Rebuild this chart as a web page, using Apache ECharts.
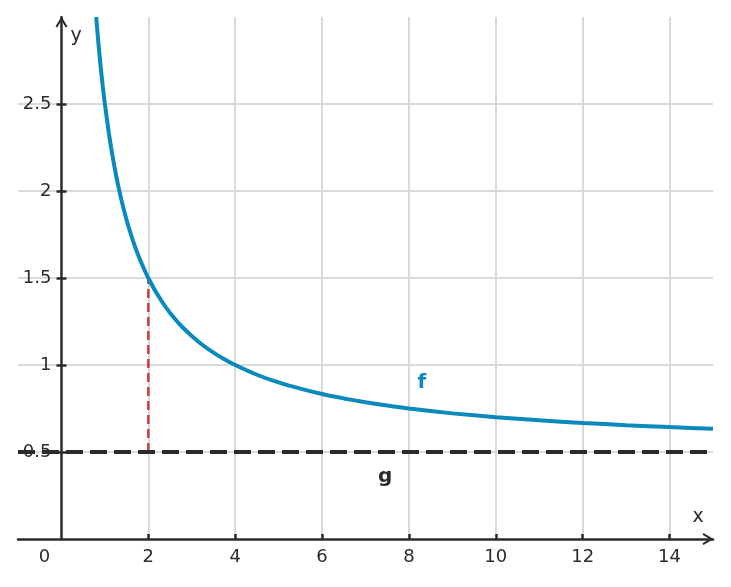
<!DOCTYPE html>
<html>
<head>
<meta charset="utf-8">
<script src="https://cdn.jsdelivr.net/npm/echarts@6/dist/echarts.min.js"></script>
<style>
html, body { margin: 0; padding: 0; background: #fff; }
#main { width: 731px; height: 587px; }
</style>
</head>
<body>
<div id="main"></div>
<script>
// values
var xTicks = [0, 2, 4, 6, 8, 10, 12, 14];
var yTicks = [0.5, 1, 1.5, 2, 2.5];
var fX = [0.8, 0.85, 0.9, 0.95, 1, 1.1, 1.2, 1.3, 1.4, 1.5, 1.6, 1.7, 1.8, 1.9, 2, 2.2, 2.4, 2.6, 2.8, 3, 3.25, 3.5, 3.75, 4, 4.5, 5, 5.5, 6, 6.5, 7, 7.5, 8, 9, 10, 11, 12, 13, 14, 15];
var fY = [3.0, 2.853, 2.722, 2.605, 2.5, 2.318, 2.167, 2.038, 1.929, 1.833, 1.75, 1.676, 1.611, 1.553, 1.5, 1.409, 1.333, 1.269, 1.214, 1.167, 1.115, 1.071, 1.033, 1.0, 0.944, 0.9, 0.864, 0.833, 0.808, 0.786, 0.767, 0.75, 0.722, 0.7, 0.682, 0.667, 0.654, 0.643, 0.633];
var gX = [-1, 15];
var gY = [0.5, 0.5];
var dropX = [2, 2];
var dropY = [0.5, 1.5];
var labelNames = ['f', 'g'];
var labelX = [8.3, 7.45];
var labelY = [0.9, 0.36];

var blue = '#0a89bc';
var dark = '#2b2b2b';
var red = '#d13c3c';
var font = 'DejaVu Sans';
var chevron = 'path://M0,10 L6,0 L12,10 L10.2,11 L6,3.8 L1.8,11 Z';
// y axis sits at x = 0, one unit (696 / 16 px) in from the grid's left edge
var yAxisShift = -43.5;

function pairs(xs, ys) {
    return xs.map(function (x, i) { return [x, ys[i]]; });
}

var myChart = echarts.init(document.getElementById('main'));
var option = {
    animation: false,
    grid: { left: 18, right: 18, top: 17, bottom: 48, containLabel: false, outerBoundsMode: 'none' },
    xAxis: {
        type: 'value',
        min: -1,
        max: 15,
        name: 'x',
        nameLocation: 'end',
        nameGap: -15,
        nameTextStyle: { fontFamily: font, fontSize: 19, color: dark, align: 'center', verticalAlign: 'bottom', padding: [0, 0, 12, 0] },
        axisLine: {
            onZero: false,
            lineStyle: { color: dark, width: 2.5 },
            symbol: ['none', chevron],
            symbolSize: [13, 11],
            symbolOffset: [0, -5]
        },
        axisTick: { customValues: xTicks.slice(1), inside: true, length: 5, lineStyle: { color: dark, width: 2.5 } },
        axisLabel: {
            customValues: xTicks,
            margin: 9,
            fontFamily: font,
            fontSize: 18,
            color: dark,
            formatter: function (v) { return v === 0 ? '{z|0}' : String(v); },
            rich: { z: { fontFamily: font, fontSize: 18, color: dark, padding: [0, 34, 0, 0] } }
        },
        splitLine: { show: true, lineStyle: { color: '#d9d9d9', width: 2 } }
    },
    yAxis: [{
        type: 'value',
        min: 0,
        max: 3,
        position: 'left',
        offset: yAxisShift,
        name: 'y',
        nameLocation: 'end',
        nameGap: -29,
        nameTextStyle: { fontFamily: font, fontSize: 19, color: dark, align: 'left', padding: [0, 0, 0, 9] },
        axisLine: {
            onZero: false,
            lineStyle: { color: dark, width: 2.5 },
            symbol: ['none', chevron],
            symbolSize: [13, 11],
            symbolOffset: [0, -5]
        },
        axisTick: { customValues: yTicks, inside: false, length: 5, lineStyle: { color: dark, width: 2.5 } },
        axisLabel: { customValues: yTicks, margin: 10, fontFamily: font, fontSize: 18, color: dark },
        splitLine: { show: true, lineStyle: { color: '#d9d9d9', width: 2 } }
    }, {
        // second copy only to draw the inner half of the crossing ticks
        type: 'value',
        min: 0,
        max: 3,
        position: 'left',
        offset: yAxisShift,
        axisLine: { onZero: false, lineStyle: { opacity: 0 } },
        axisTick: { customValues: yTicks, inside: true, length: 5, lineStyle: { color: dark, width: 2.5 } },
        axisLabel: { show: false },
        splitLine: { show: false }
    }],
    series: [
        {
            type: 'line',
            data: pairs(dropX, dropY),
            showSymbol: false,
            lineStyle: { color: red, width: 2.5, type: [9, 5] },
            z: 3
        },
        {
            type: 'line',
            data: pairs(gX, gY),
            showSymbol: false,
            lineStyle: { color: dark, width: 4, type: [17, 7] },
            z: 4
        },
        {
            type: 'line',
            data: pairs(fX, fY),
            smooth: 0.2,
            showSymbol: false,
            lineStyle: { color: blue, width: 4 },
            z: 5
        },
        {
            type: 'scatter',
            symbolSize: 0,
            itemStyle: { opacity: 1 },
            data: labelNames.map(function (n, i) {
                return { name: n, value: [labelX[i], labelY[i]], label: { color: i === 0 ? blue : dark } };
            }),
            label: {
                show: true,
                position: 'inside',
                fontFamily: font,
                fontSize: 20,
                fontWeight: 'bold',
                textBorderWidth: 0,
                formatter: function (p) { return p.name; }
            },
            z: 6
        }
    ]
};
myChart.setOption(option);
</script>
</body>
</html>
